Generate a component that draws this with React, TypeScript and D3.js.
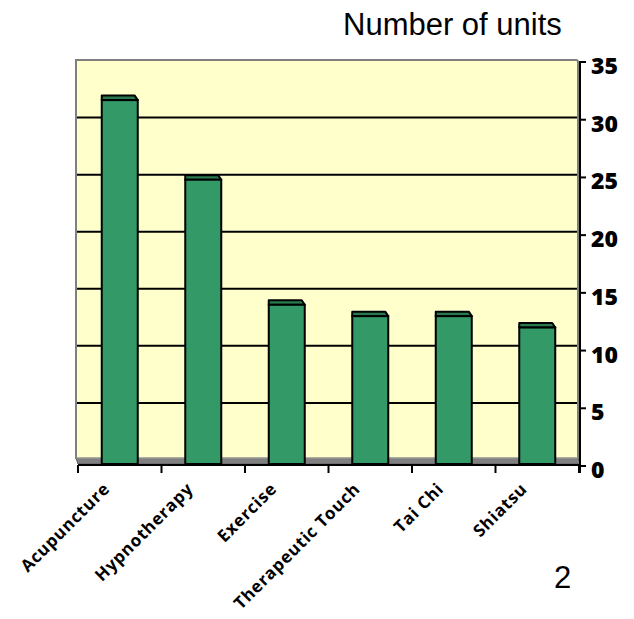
import React from "react";
import * as d3 from "d3";

const categories = ["Acupuncture", "Hypnotherapy", "Exercise", "Therapeutic Touch", "Tai Chi", "Shiatsu"];
const values = [32, 25, 14, 13, 13, 12];
const yTicks = [0, 5, 10, 15, 20, 25, 30, 35];
const gridValues = [5, 10, 15, 20, 25, 30];
const title = "Number of units";
const pageNumber = "2";

export default function App() {
  const W = 634, H = 619;
  const x = d3.scaleBand<string>().domain(categories).range([78, 579]).paddingInner(0).paddingOuter(0);
  const yFront = d3.scaleLinear().domain([0, 35]).range([464, 66]);
  const yBack = d3.scaleLinear().domain([0, 35]).range([460, 60.5]);
  const yTick = d3.scaleLinear().domain([0, 35]).range([466, 62]);
  const barW = 36;
  const depth = 4.5;
  const tickXs = categories.map((c) => x(c)!).concat([x.range()[1]]);

  return (
    <svg width={W} height={H} style={{ position: "absolute", left: 0, top: 0, background: "#fff" }}>
      {/* back wall */}
      <rect x={76} y={60} width={502} height={400} fill="#FFFFCC" />
      {gridValues.map((v) => (
        <line key={v} x1={77} x2={578} y1={yBack(v)} y2={yBack(v)} stroke="#000" strokeWidth={2} />
      ))}
      <path d="M76,459 L76,60 L576,60 Q578,60 578,62 L578,459" fill="none" stroke="#808080" strokeWidth={2} />
      {/* floor */}
      <polygon points="76,458 578,458 580,464 78,464" fill="#808080" stroke="#5a5a5a" strokeWidth={1} />
      <line x1={76} x2={578} y1={458} y2={458} stroke="#b0b0b0" strokeWidth={1} />
      {/* bars */}
      {categories.map((c, i) => {
        const cx = x(c)! + x.bandwidth() / 2;
        const x0 = cx - barW / 2;
        const x1 = cx + barW / 2;
        const yF = yFront(values[i]);
        const yB = yF - depth;
        return (
          <g key={c}>
            <polygon
              points={`${x0},${yF} ${x0},${yB} ${x1 - 3},${yB} ${x1},${yF}`}
              fill="#287A4E"
              stroke="#000"
              strokeWidth={2}
              strokeLinejoin="round"
            />
            <rect x={x0} y={yF} width={barW} height={yFront(0) - yF} fill="#339966" stroke="#000" strokeWidth={2} />
          </g>
        );
      })}
      {/* bottom axis */}
      <line x1={78} x2={580} y1={465} y2={465} stroke="#000" strokeWidth={2} />
      {tickXs.map((tx, i) => (
        <line key={i} x1={tx} x2={tx} y1={465} y2={473} stroke="#000" strokeWidth={2} />
      ))}
      {/* right axis */}
      <line x1={580} x2={580} y1={61} y2={473} stroke="#000" strokeWidth={2} />
      {yTicks.map((v) => (
        <g key={v}>
          <line x1={580} x2={586} y1={yTick(v)} y2={yTick(v)} stroke="#000" strokeWidth={2} />
          <text
            x={591}
            y={yTick(v) + 3}
            dominantBaseline="central"
            fontFamily="Open Sans"
            fontWeight={800}
            fontSize={23}
            fill="#000"
          >
            {v}
          </text>
        </g>
      ))}
      {/* category labels */}
      {categories.map((c) => {
        const cx = x(c)! + x.bandwidth() / 2;
        const px = cx - 9;
        const py = 490;
        return (
          <text
            key={c}
            transform={`translate(${px},${py}) rotate(-45)`}
            textAnchor="end"
            fontFamily="Open Sans"
            fontWeight="bold"
            fontSize={17}
            letterSpacing={0.7}
            fill="#000"
          >
            {c}
          </text>
        );
      })}
      <text x={343} y={35} fontFamily="Liberation Sans" fontSize={31} fill="#000">
        {title}
      </text>
      <text x={554} y={588} fontFamily="Liberation Sans" fontSize={31} fill="#000">
        {pageNumber}
      </text>
    </svg>
  );
}
